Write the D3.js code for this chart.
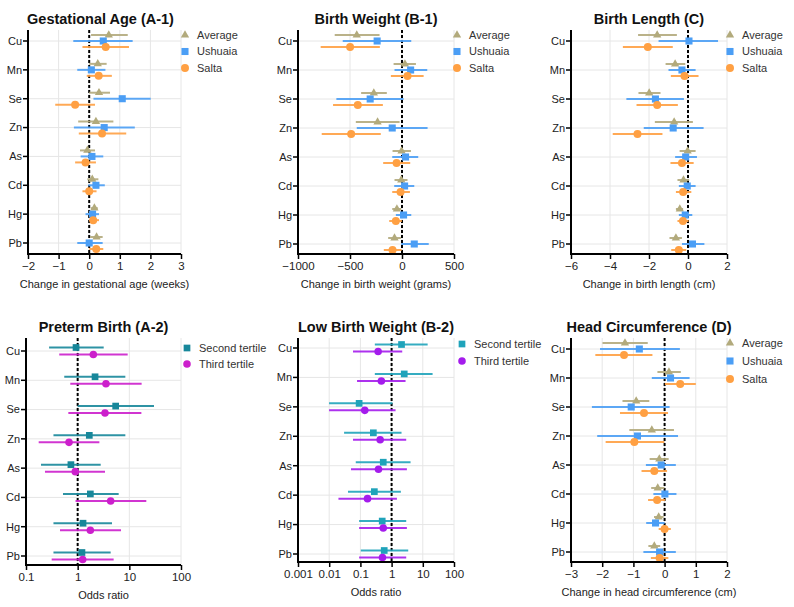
<!DOCTYPE html>
<html><head><meta charset="utf-8">
<script src="https://cdn.jsdelivr.net/npm/d3@7"></script>
<style>body{margin:0;background:#fff;font-family:"Liberation Sans",Arial,sans-serif}</style>
</head><body><svg id="c" width="794" height="607"></svg>
<script>
const metals = ["Cu","Mn","Se","Zn","As","Cd","Hg","Pb"];
// [estimate, lower, upper]
const gaAverage = [[0.64,0.06,1.26],[0.28,0.0,0.57],[0.32,0.0,0.68],[0.22,-0.36,0.79],[-0.06,-0.30,0.19],[0.10,-0.06,0.30],[0.17,0.05,0.28],[0.24,0.03,0.44]];
const gaUshuaia = [[0.46,-0.52,1.42],[0.07,-0.39,0.53],[1.08,0.14,2.01],[0.49,-0.50,1.49],[0.09,-0.28,0.46],[0.22,-0.03,0.51],[0.11,-0.12,0.32],[0.0,-0.39,0.44]];
const gaSalta = [[0.54,-0.22,1.30],[0.31,-0.08,0.74],[-0.46,-1.11,0.19],[0.42,-0.34,1.21],[-0.12,-0.46,0.22],[0.0,-0.22,0.24],[0.13,0.0,0.32],[0.23,0.0,0.46]];
const bwAverage = [[-435,-647,-216],[28,-81,134],[-271,-393,-146],[-235,-444,-23],[-4,-91,86],[-7,-72,53],[-49,-94,-7],[-72,-133,-11]];
const bwUshuaia = [[-239,-570,89],[83,-72,243],[-306,-631,15],[-94,-435,246],[34,-94,156],[25,-75,118],[15,-59,89],[118,-7,257]];
const bwSalta = [[-499,-782,-213],[53,-107,208],[-425,-663,-184],[-489,-772,-204],[-52,-181,79],[-14,-94,76],[-59,-123,-1],[-91,-175,-4]];
const blAverage = [[-1.58,-2.56,-0.57],[-0.66,-1.15,-0.14],[-1.99,-2.54,-1.41],[-0.71,-1.70,0.25],[-0.02,-0.43,0.39],[-0.23,-0.54,0.06],[-0.42,-0.62,-0.25],[-0.62,-0.95,-0.31]];
const blUshuaia = [[0.05,-1.51,1.54],[-0.31,-1.0,0.39],[-1.67,-3.16,-0.21],[-0.76,-2.27,0.80],[-0.12,-0.66,0.46],[-0.04,-0.47,0.39],[-0.14,-0.47,0.22],[0.23,-0.31,0.84]];
const blSalta = [[-2.06,-3.34,-0.78],[-0.18,-0.88,0.54],[-1.58,-2.64,-0.52],[-2.59,-3.86,-1.31],[-0.31,-0.90,0.29],[-0.25,-0.62,0.17],[-0.26,-0.54,0.03],[-0.47,-0.86,-0.09]];
const ptSecond = [[0.93,0.28,3.19],[2.17,0.55,8.37],[5.44,1.0,30.0],[1.68,0.34,8.37],[0.74,0.195,2.79],[1.76,0.52,6.22],[1.27,0.34,4.62],[1.21,0.34,4.35]];
const ptThird = [[2.01,0.44,9.29],[3.53,0.72,17.3],[3.38,0.66,17.1],[0.68,0.176,2.63],[0.90,0.233,3.38],[4.35,0.91,21.3],[1.76,0.455,6.9],[1.25,0.314,4.97]];
const lbwSecond = [[2.08,0.29,14.3],[2.54,0.29,20.6],[0.091,0.0099,1.07],[0.26,0.030,2.08],[0.54,0.071,4.05],[0.28,0.040,1.98],[0.50,0.091,2.94],[0.58,0.103,3.41]];
const lbwThird = [[0.37,0.058,2.19],[0.47,0.078,2.8],[0.138,0.0099,1.34],[0.43,0.058,2.94],[0.38,0.050,3.09],[0.169,0.0198,1.48],[0.54,0.091,3.09],[0.51,0.091,2.94]];
const hcAverage = [[-1.27,-1.99,-0.54],[0.14,-0.23,0.52],[-0.91,-1.35,-0.49],[-0.41,-1.13,0.30],[-0.17,-0.48,0.13],[-0.22,-0.43,-0.01],[-0.19,-0.34,-0.03],[-0.33,-0.52,-0.14]];
const hcUshuaia = [[-0.81,-2.07,0.49],[0.19,-0.41,0.80],[-1.07,-2.33,0.16],[-0.87,-2.16,0.43],[-0.11,-0.60,0.36],[0.01,-0.36,0.38],[-0.29,-0.59,0.0],[-0.16,-0.68,0.36]];
const hcSalta = [[-1.30,-2.22,-0.39],[0.50,0.01,1.0],[-0.66,-1.43,0.11],[-0.97,-1.89,-0.01],[-0.33,-0.74,0.08],[-0.24,-0.53,0.02],[0.0,-0.19,0.20],[-0.16,-0.44,0.12]];
const gaTicks = [-2,-1,0,1,2,3];
const bwTicks = [-1000,-500,0,500];
const blTicks = [-6,-4,-2,0,2];
const ptTicks = [0.1,1,10,100];
const lbwTicks = [0.001,0.01,0.1,1,10,100];
const hcTicks = [-3,-2,-1,0,1,2];

const svg = d3.select("#c");
const cAvg="#b2aa7c", cUsh="#4b9ef5", cSal="#ffa043";
const FS = 11;

function panel(o){
  const g = svg.append("g");
  const x = (o.log ? d3.scaleLog() : d3.scaleLinear()).domain(o.domain).range([o.x0,o.x1]);
  const y = d3.scalePoint().domain(metals).range([o.yc0,o.yc1]);
  g.selectAll(".vg").data(o.ticks).join("line")
    .attr("x1",d=>x(d)).attr("x2",d=>x(d)).attr("y1",o.yTop).attr("y2",o.yBot)
    .attr("stroke","#e6e6e6").attr("stroke-width",1);
  g.selectAll(".hg").data(metals).join("line")
    .attr("x1",o.x0).attr("x2",o.x1).attr("y1",d=>y(d)).attr("y2",d=>y(d))
    .attr("stroke","#e6e6e6").attr("stroke-width",1);
  g.append("line").attr("x1",x(o.ref)).attr("x2",x(o.ref)).attr("y1",o.yTop).attr("y2",o.yBot)
    .attr("stroke","#000").attr("stroke-width",2).attr("stroke-dasharray","3,2");
  o.series.forEach(s=>{
    const sg = g.append("g");
    sg.selectAll("line").data(s.data).join("line")
      .attr("x1",d=>x(d[1])).attr("x2",d=>x(d[2]))
      .attr("y1",(d,i)=>y(metals[i])+s.off).attr("y2",(d,i)=>y(metals[i])+s.off)
      .attr("stroke",s.color).attr("stroke-width",2).attr("stroke-opacity",0.9);
    const sym = d3.symbol().type(s.shape).size(s.size);
    sg.selectAll("path").data(s.data).join("path")
      .attr("d",sym)
      .attr("transform",(d,i)=>`translate(${x(d[0])},${y(metals[i])+s.off})`)
      .attr("fill",s.color);
  });
  const ax = d3.axisBottom(x).tickValues(o.ticks).tickSize(5).tickSizeOuter(0)
    .tickFormat(o.log ? (d=>String(d)) : d3.format("d"));
  const xa = g.append("g").attr("transform",`translate(0,${o.yBot})`).call(ax);
  xa.select(".domain").attr("stroke-width",2).attr("d",`M${o.x0-1},0H${o.x1}`);
  xa.selectAll(".tick line").attr("stroke-width",1.5);
  xa.selectAll("text").attr("font-size",FS+0.5).attr("fill","#222")
    .attr("font-family","Liberation Sans, Arial, sans-serif");
  const yaG = g.append("g").attr("transform",`translate(${o.x0},0)`);
  yaG.append("line").attr("x1",0).attr("x2",0).attr("y1",o.yTop).attr("y2",o.yBot)
    .attr("stroke","#000").attr("stroke-width",2);
  yaG.selectAll(".yt").data(metals).join("line")
    .attr("x1",-5).attr("x2",0).attr("y1",d=>y(d)).attr("y2",d=>y(d))
    .attr("stroke","#000").attr("stroke-width",1.5);
  yaG.selectAll(".yl").data(metals).join("text")
    .attr("x",-6).attr("y",d=>y(d)).attr("dy","0.35em").attr("text-anchor","end")
    .attr("font-size",FS).attr("fill","#222").text(d=>d);
  g.append("text").attr("x",(o.x0+o.x1)/2 + (o.tdx||0)).attr("y",o.titleY).attr("text-anchor","middle")
    .attr("font-size",14.5).attr("font-weight","bold").attr("fill","#111").text(o.title);
  g.append("text").attr("x",(o.x0+o.x1)/2 + (o.adx||0)).attr("y",o.yBot+34).attr("text-anchor","middle")
    .attr("font-size",FS).attr("fill","#222").text(o.xlabel);
  o.series.forEach((s,i)=>{
    const ly = o.legY + i*o.legStep;
    g.append("path").attr("d",d3.symbol().type(s.shape).size(s.size)())
      .attr("transform",`translate(${o.legX},${ly})`).attr("fill",s.color);
    g.append("text").attr("x",o.legX+12).attr("y",ly).attr("dy","0.35em")
      .attr("font-size",FS).attr("fill","#333").text(s.name);
  });
}
const tri = d3.symbolTriangle, sq = d3.symbolSquare, ci = d3.symbolCircle;
function three(a,u,s){return [
  {name:"Average",data:a,color:cAvg,shape:tri,size:30,off:-6},
  {name:"Ushuaia",data:u,color:cUsh,shape:sq,size:50,off:0},
  {name:"Salta",data:s,color:cSal,shape:ci,size:50,off:6}];}
const topRow = {yTop:30,yBot:254,yc0:41,yc1:244,titleY:24,legY:35,legStep:16.5};
const botRow = {yTop:338,yBot:563,yc0:349,yc1:554,titleY:332,legY:347,legStep:16.5};
panel(Object.assign({},topRow,{x0:28,x1:181,yc1:243,domain:[-2,3],ticks:gaTicks,ref:0,title:"Gestational Age (A-1)",tdx:-4,
  xlabel:"Change in gestational age (weeks)",series:three(gaAverage,gaUshuaia,gaSalta),legX:185}));
panel(Object.assign({},topRow,{x0:298,x1:454,domain:[-1000,500],ticks:bwTicks,ref:0,title:"Birth Weight (B-1)",
  xlabel:"Change in birth weight (grams)",series:three(bwAverage,bwUshuaia,bwSalta),legX:457}));
panel(Object.assign({},topRow,{x0:571,x1:727,domain:[-6,2],ticks:blTicks,ref:0,title:"Birth Length (C)",
  xlabel:"Change in birth length (cm)",series:three(blAverage,blUshuaia,blSalta),legX:730}));
panel(Object.assign({},botRow,{x0:26,x1:181,yc0:351,yc1:556,yBot:565,domain:[0.1,100],ticks:ptTicks,ref:1,log:true,title:"Preterm Birth (A-2)",
  xlabel:"Odds ratio",legX:187,legY:348,legStep:16,series:[
  {name:"Second tertile",data:ptSecond,color:"#17879a",shape:sq,size:45,off:-3.5},
  {name:"Third tertile",data:ptThird,color:"#cc1fcc",shape:ci,size:45,off:3.5}]}));
panel(Object.assign({},botRow,{x0:298,x1:454,yc0:348,yc1:554,yBot:562,domain:[0.001,100],ticks:lbwTicks,ref:1,log:true,title:"Low Birth Weight (B-2)",
  xlabel:"Odds ratio",legX:462,legY:344,legStep:17,series:[
  {name:"Second tertile",data:lbwSecond,color:"#1fa3ba",shape:sq,size:45,off:-3.5},
  {name:"Third tertile",data:lbwThird,color:"#a41cec",shape:ci,size:45,off:3.5}]}));
panel(Object.assign({},botRow,{x0:571,x1:727,yc0:349,yc1:552,yBot:562,domain:[-3,2],ticks:hcTicks,ref:0,title:"Head Circumference (D)",
  xlabel:"Change in head circumference (cm)",series:three(hcAverage,hcUshuaia,hcSalta),legX:730,legY:343,legStep:18}));
</script></body></html>
